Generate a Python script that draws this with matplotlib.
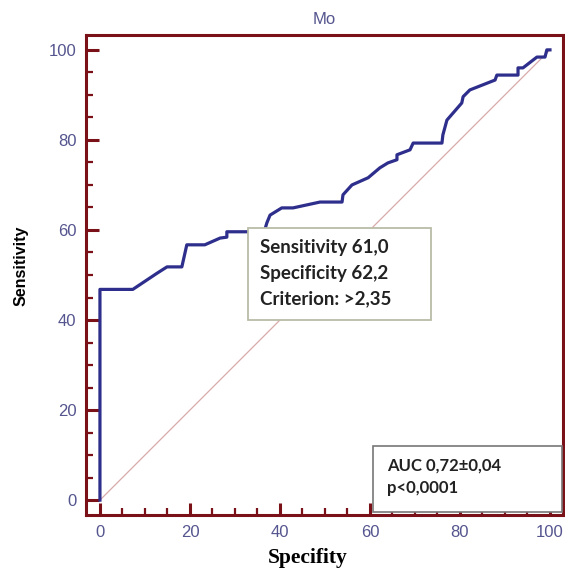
import matplotlib.pyplot as plt
from matplotlib.patches import Rectangle
from matplotlib.ticker import MultipleLocator

# ROC curve (100-specificity, sensitivity)
spec = [0, 0, 7.3, 12.7, 14.9, 18.2, 19.3, 23.3, 26.7, 28.2, 28.2, 31.8, 36.5,
        37.1, 37.8, 40.4, 42.9, 48.9, 53.8, 54.0, 56.0, 59.6, 62.2, 64.0, 66.0,
        66.0, 68.9, 69.6, 76.0, 76.2, 77.1, 80.4, 80.7, 82.2, 87.8, 88.2, 92.9,
        92.9, 94.0, 97.1, 98.9, 99.3, 100]
sens = [0, 46.8, 46.8, 50.4, 51.8, 51.8, 56.7, 56.7, 58.2, 58.4, 59.6, 59.6, 59.6,
        61.6, 63.3, 64.9, 64.9, 66.2, 66.2, 67.8, 70.0, 71.6, 73.8, 74.9, 75.6,
        76.7, 77.8, 79.3, 79.3, 81.1, 84.4, 88.2, 89.6, 91.1, 93.3, 94.4, 94.4,
        96.0, 96.0, 98.4, 98.4, 100, 100]
diag = [0, 100]

stats_lines = ["Sensitivity 61,0", "Specificity 62,2", "Criterion: >2,35"]
auc_lines = ["AUC 0,72\u00b10,04", "p<0,0001"]

red = "#7a1018"
blue = "#55558f"

fig = plt.figure(figsize=(5.65, 5.72), dpi=100)
ax = fig.add_axes([0.1522, 0.0997, 0.8443, 0.8391])

ax.plot(diag, diag, color="#d9a9a9", lw=0.9, zorder=1)
ax.plot(spec, sens, color="#2e2e8c", lw=2.3, zorder=2)

ax.set_xlim(-3.1, 102.9)
ax.set_ylim(-3.3, 103.3)
ax.xaxis.set_major_locator(MultipleLocator(20))
ax.yaxis.set_major_locator(MultipleLocator(20))
ax.xaxis.set_minor_locator(MultipleLocator(5))
ax.yaxis.set_minor_locator(MultipleLocator(5))

for s in ax.spines.values():
    s.set_color(red)
    s.set_linewidth(2.2)
ax.tick_params(which="major", direction="in", length=9, width=2.2, color=red,
               labelcolor=blue, labelsize=12, pad=7)
ax.tick_params(which="minor", direction="in", length=5, width=1.6, color=red)
for lab in ax.get_xticklabels() + ax.get_yticklabels():
    lab.set_family("Liberation Sans")

ax.set_title("Mo", color=blue, fontsize=12, family="Liberation Sans", pad=8)
ax.set_ylabel("Sensitivity", fontsize=11.5, fontweight="bold",
              family="Liberation Sans")
ax.yaxis.set_label_coords(-0.121, 0.52)
ax.set_xlabel("Specifity", fontsize=15.5, fontweight="bold",
              family="Liberation Serif")
ax.xaxis.set_label_coords(0.465, -0.068)

# criterion box
ax.add_patch(Rectangle((32.9, 40.0), 40.7, 20.4, facecolor="white",
                       edgecolor="#b9bca6", lw=1.3, zorder=3))
for i, t in enumerate(stats_lines):
    ax.text(35.6, 56.0 - i * 5.65, t, fontsize=13.5, fontweight="bold",
            family="Lato", color="#222222", va="center", zorder=4)

# AUC box
ax.add_patch(Rectangle((60.7, -2.7), 42.0, 14.7, facecolor="white",
                       edgecolor="#777777", lw=1.2, zorder=3, clip_on=False))
for i, t in enumerate(auc_lines):
    ax.text(63.8, 7.6 - i * 5.0, t, fontsize=12, fontweight="bold",
            family="Lato", color="#222222", va="center", zorder=4)

fig.savefig("out.png", dpi=100)
